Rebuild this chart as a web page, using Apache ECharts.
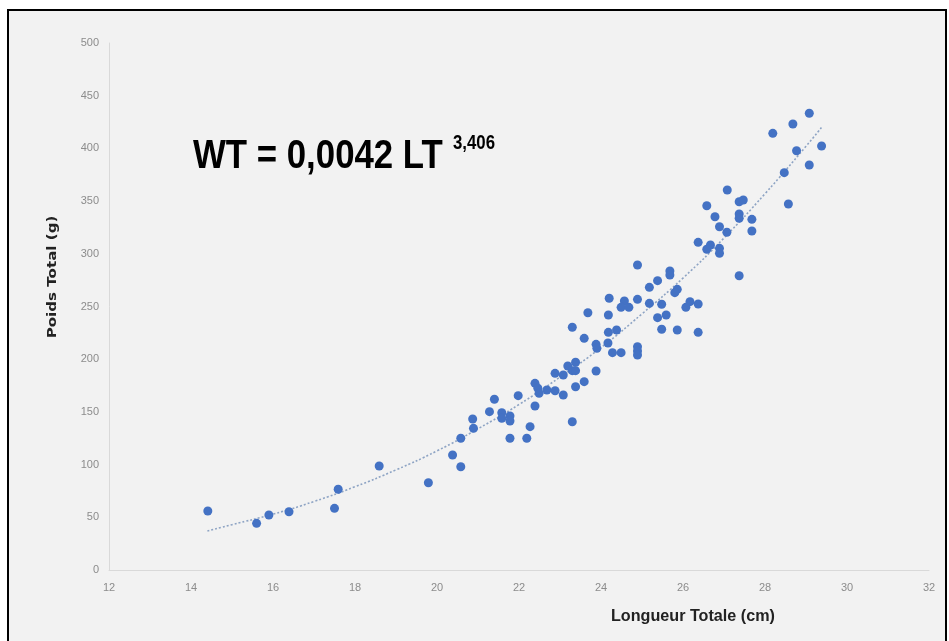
<!DOCTYPE html>
<html>
<head>
<meta charset="utf-8">
<script src="https://cdn.jsdelivr.net/npm/echarts@6/dist/echarts.min.js"></script>
<style>
html,body{margin:0;padding:0;background:#ffffff;}
#chart{width:949px;height:641px;}
</style>
</head>
<body>
<div id="chart"></div>
<script>
// Longueur Totale (cm)
var lengthCm = [
  14.41, 15.60, 15.90, 16.39, 17.50, 17.59, 18.59, 19.79, 20.38, 20.58, 20.58,
  20.87, 20.89, 21.28, 21.40, 21.58, 21.58, 21.78, 21.78, 21.78, 21.98, 22.19,
  22.27, 22.39, 22.39, 22.46, 22.49, 22.68, 22.88, 22.88, 23.08, 23.08, 23.19,
  23.38, 23.30, 23.38, 23.30, 23.38, 23.30, 23.59, 23.59, 23.68, 23.88, 23.90,
  23.88, 24.18, 24.18, 24.17,
  24.20, 24.38, 24.28, 24.49, 24.57, 24.49, 24.68, 24.89, 24.89, 24.89, 24.89,
  24.89, 25.18, 25.18, 25.38, 25.38, 25.48, 25.48, 25.59, 25.68, 25.68, 25.86,
  25.80, 25.86, 26.17, 26.07, 26.37, 26.37, 26.37, 26.58, 26.67, 26.58, 26.78,
  26.89, 26.89, 26.89, 27.07,
  27.08, 27.37, 27.47, 27.37, 27.37, 27.37, 27.68, 27.68, 28.19, 28.47, 28.57,
  28.68, 28.77, 29.08, 29.08, 29.38
];
// Poids Total (g)
var weightG = [
  56.0, 44.3, 52.2, 55.3, 58.5, 76.6, 98.7, 82.8, 109.1, 125.0, 98.0,
  143.3, 134.4, 150.2, 162.0, 149.2, 143.9, 146.1, 141.4, 125.0, 165.4, 125.0,
  136.0, 155.6, 177.1, 172.4, 167.6, 170.8, 170.1, 186.6, 185.0, 166.0, 193.5,
  197.1, 189.1, 189.1, 140.7, 173.9, 230.3, 178.7, 219.8, 244.1, 214.1, 210.3,
  188.8, 241.9, 225.5, 215.4,
  257.8, 227.7, 206.2, 206.2, 255.2, 249.2, 249.2, 256.8, 289.4, 211.9, 207.8,
  204.0, 268.2, 253.0, 274.5, 239.4, 252.1, 228.4, 241.9, 283.7, 279.9, 266.3,
  263.1, 227.7, 254.6, 249.2, 252.4, 225.5, 310.9, 345.6, 308.3, 304.3, 335.2,
  325.7, 305.2, 300.5, 320.4,
  360.5, 349.4, 351.0, 337.8, 333.7, 279.2, 332.7, 321.6, 414.3, 377.0, 347.2,
  423.1, 397.8, 433.3, 384.3, 402.3
];
// Courbe de tendance
var trendX = [14.4, 15, 16, 17, 18, 19, 20, 21, 22, 23, 24, 25, 26, 27, 28, 29, 29.4];
var trendY = [37, 43, 53, 65, 79, 95, 113, 134, 157, 183, 211, 243, 277, 315, 357, 402, 421];

var xTicks = [12, 14, 16, 18, 20, 22, 24, 26, 28, 30, 32];
var yTicks = [0, 50, 100, 150, 200, 250, 300, 350, 400, 450, 500];

var equationMain = 'WT = 0,0042 LT';
var equationExp = '3,406';
var xTitle = 'Longueur Totale (cm)';
var yTitle = 'Poids Total (g)';

var scatterData = lengthCm.map(function (x, i) { return [x, weightG[i]]; });
var trendData = trendX.map(function (x, i) { return [x, trendY[i]]; });

var sans = "'Liberation Sans', 'Noto Sans', sans-serif";

var chart = echarts.init(document.getElementById('chart'), null, { renderer: 'canvas' });
chart.setOption({
  animation: false,
  backgroundColor: '#ffffff',
  grid: { left: 109, right: 20, top: 43, bottom: 71 },
  graphic: [
    { type: 'rect', z: -10, shape: { x: 8, y: 10, width: 938, height: 640 },
      style: { fill: '#f2f2f2', stroke: '#000000', lineWidth: 2 } },
    { type: 'text', x: 193, y: 137, scaleX: 0.87, z: 10,
      style: { text: equationMain, font: "bold 40px " + sans, fill: '#000000', verticalAlign: 'top', align: 'left' } },
    { type: 'text', x: 453, y: 133, scaleX: 0.8, z: 10,
      style: { text: equationExp, font: "bold 21px " + sans, fill: '#000000', verticalAlign: 'top', align: 'left' } },
    { type: 'text', x: 611, y: 608, scaleX: 0.95, z: 10,
      style: { text: xTitle, font: "bold 17px " + sans, fill: '#222222', verticalAlign: 'top', align: 'left' } },
    { type: 'text', x: 53, y: 277, rotation: Math.PI / 2, scaleX: 1.16, z: 10,
      style: { text: yTitle, font: "bold 13px 'DejaVu Sans'", fill: '#222222', verticalAlign: 'middle', align: 'center' } }
  ],
  xAxis: {
    type: 'value', min: xTicks[0], max: xTicks[xTicks.length - 1], interval: 2,
    axisLine: { show: true, lineStyle: { color: '#d9d9d9', width: 1 } },
    axisTick: { show: false },
    splitLine: { show: false },
    axisLabel: { color: '#8c8c8c', fontSize: 11, margin: 12, fontFamily: sans }
  },
  yAxis: {
    type: 'value', min: yTicks[0], max: yTicks[yTicks.length - 1], interval: 50,
    axisLine: { show: true, lineStyle: { color: '#d9d9d9', width: 1 } },
    axisTick: { show: false },
    splitLine: { show: false },
    axisLabel: { color: '#8c8c8c', fontSize: 11, margin: 10, fontFamily: sans }
  },
  series: [
    { type: 'line', data: trendData, smooth: true, showSymbol: false, symbol: 'none',
      lineStyle: { color: '#8ea4c4', width: 1.6, type: [2, 2] }, z: 2, silent: true },
    { type: 'scatter', data: scatterData, symbol: 'circle', symbolSize: 9,
      itemStyle: { color: '#4472c4', opacity: 1 }, z: 3 }
  ]
});
</script>
</body>
</html>
